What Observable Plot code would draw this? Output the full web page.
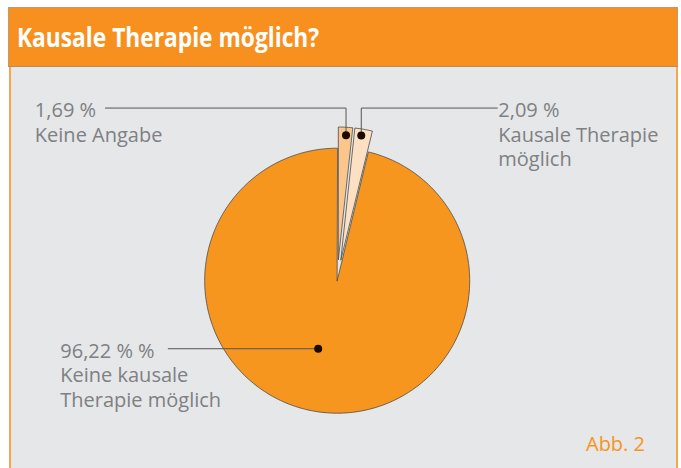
<!DOCTYPE html>
<html>
<head>
<meta charset="utf-8">
<script src="https://cdn.jsdelivr.net/npm/d3@7"></script>
<script src="https://cdn.jsdelivr.net/npm/@observablehq/plot@0.6"></script>
<style>
  html, body { margin: 0; padding: 0; background: #ffffff; }
  #frame { position: relative; margin: 7px 0 0 8px; width: 670px; }
  #header {
    box-sizing: border-box; height: 60px; background: #f7901e;
    border: 1px solid #c9966c; border-bottom-color: #b98a66;
    color: #ffffff; font-family: "Open Sans", sans-serif;
    font-weight: 700; font-size: 26px; line-height: 58px; padding-left: 8px;
    white-space: nowrap;
  }
  #header span { display: inline-block; transform: scaleX(0.875); transform-origin: left center; }
  #panel {
    position: relative; margin-left: 1px; width: 665px; height: 401px;
    background: #e6e7e8; border-left: 2px solid #f9a54c; border-right: 2px solid #f9a54c;
  }
  #panel svg { display: block; }
  #caption {
    position: absolute; right: 31px; bottom: 11px;
    font-family: "Open Sans", sans-serif; font-size: 20px; color: #f7941d;
  }
</style>
</head>
<body>
<div id="frame">
  <div id="header"><span>Kausale Therapie möglich?</span></div>
  <div id="panel"><div id="caption">Abb. 2</div></div>
</div>
<script>
// ---- data ----
const categories = ["Keine Angabe", "Kausale Therapie möglich", "Keine kausale Therapie möglich"];
const values = [1.69, 2.09, 96.22];
const valueLabels = ["1,69 %", "2,09 %", "96,22 % %"];
const nameLabels = ["Keine Angabe", "Kausale Therapie\nmöglich", "Keine kausale\nTherapie möglich"];
const sliceColors = ["#fbc68c", "#fde0c1", "#f7961e"];

// ---- layout (unit-circle coordinates, radius = 1) ----
const W = 665, H = 401, R = 132.5, CX = 325.7, CY = 213.2;
const explode = [0.16, 0.16, 0];
const dotRadius = [0.94, 0.95, 0.533];
const dotAngleShift = [0.5, -0.5, 8.8];       // degrees
const leaderY = 1.303;                        // horizontal leader for the small slices
const leaderEndX = [-1.749, 1.208, -1.275];
const labelX = [-2.282, 1.216, -2.09];

const total = d3.sum(values);
let acc = 0;
const slices = values.map((v, i) => {
  const a0 = acc / total * 360;
  acc += v;
  const a1 = acc / total * 360;
  const mid = (a0 + a1) / 2 * Math.PI / 180;
  const ox = explode[i] * Math.sin(mid), oy = explode[i] * Math.cos(mid);
  return {i, name: categories[i], a0, a1, ox, oy};
});

const rad = d => d * Math.PI / 180;
const polyPts = [];
slices.forEach(s => {
  polyPts.push({k: s.i, x: s.ox, y: s.oy});
  const n = Math.max(4, Math.ceil((s.a1 - s.a0) / 1));
  for (let j = 0; j <= n; j++) {
    const a = rad(s.a0 + (s.a1 - s.a0) * j / n);
    polyPts.push({k: s.i, x: s.ox + Math.sin(a), y: s.oy + Math.cos(a)});
  }
});

const dots = slices.map(s => {
  const a = rad((s.a0 + s.a1) / 2 + dotAngleShift[s.i]);
  return {k: s.i, x: s.ox + dotRadius[s.i] * Math.sin(a), y: s.oy + dotRadius[s.i] * Math.cos(a)};
});

const leaders = [];
dots.forEach(d => {
  if (d.k < 2) {
    leaders.push({k: d.k, x: d.x, y: d.y}, {k: d.k, x: d.x, y: leaderY}, {k: d.k, x: leaderEndX[d.k], y: leaderY});
  } else {
    leaders.push({k: d.k, x: d.x, y: d.y}, {k: d.k, x: leaderEndX[d.k], y: d.y});
  }
});

const labels = dots.map(d => ({
  x: labelX[d.k],
  y: d.k < 2 ? leaderY : d.y,
  text: valueLabels[d.k] + "\n" + nameLabels[d.k]
}));

const chart = Plot.plot({
  width: W, height: H,
  margin: 0,
  x: {domain: [-CX / R, (W - CX) / R], axis: null},
  y: {domain: [-(H - CY) / R, CY / R], axis: null},
  style: {background: "transparent", overflow: "visible"},
  marks: [
    ...slices.map(s => Plot.line(polyPts.filter(p => p.k === s.i), {
      x: "x", y: "y", curve: "linear-closed",
      fill: sliceColors[s.i], stroke: "#4a4a4a", strokeWidth: 0.8, strokeLinejoin: "miter"
    })),
    Plot.line(leaders, {x: "x", y: "y", z: "k", stroke: "#555555", strokeWidth: 1}),
    Plot.dot(dots, {x: "x", y: "y", r: 4, fill: "#1a0a00", stroke: "none"}),
    Plot.text(labels, {
      x: "x", y: "y", text: "text", textAnchor: "start", lineAnchor: "top",
      dy: -8, lineHeight: 1.22, fontSize: 20, fill: "#7e8083",
      fontFamily: "Open Sans, sans-serif"
    })
  ]
});
document.getElementById("panel").prepend(chart);
</script>
</body>
</html>
